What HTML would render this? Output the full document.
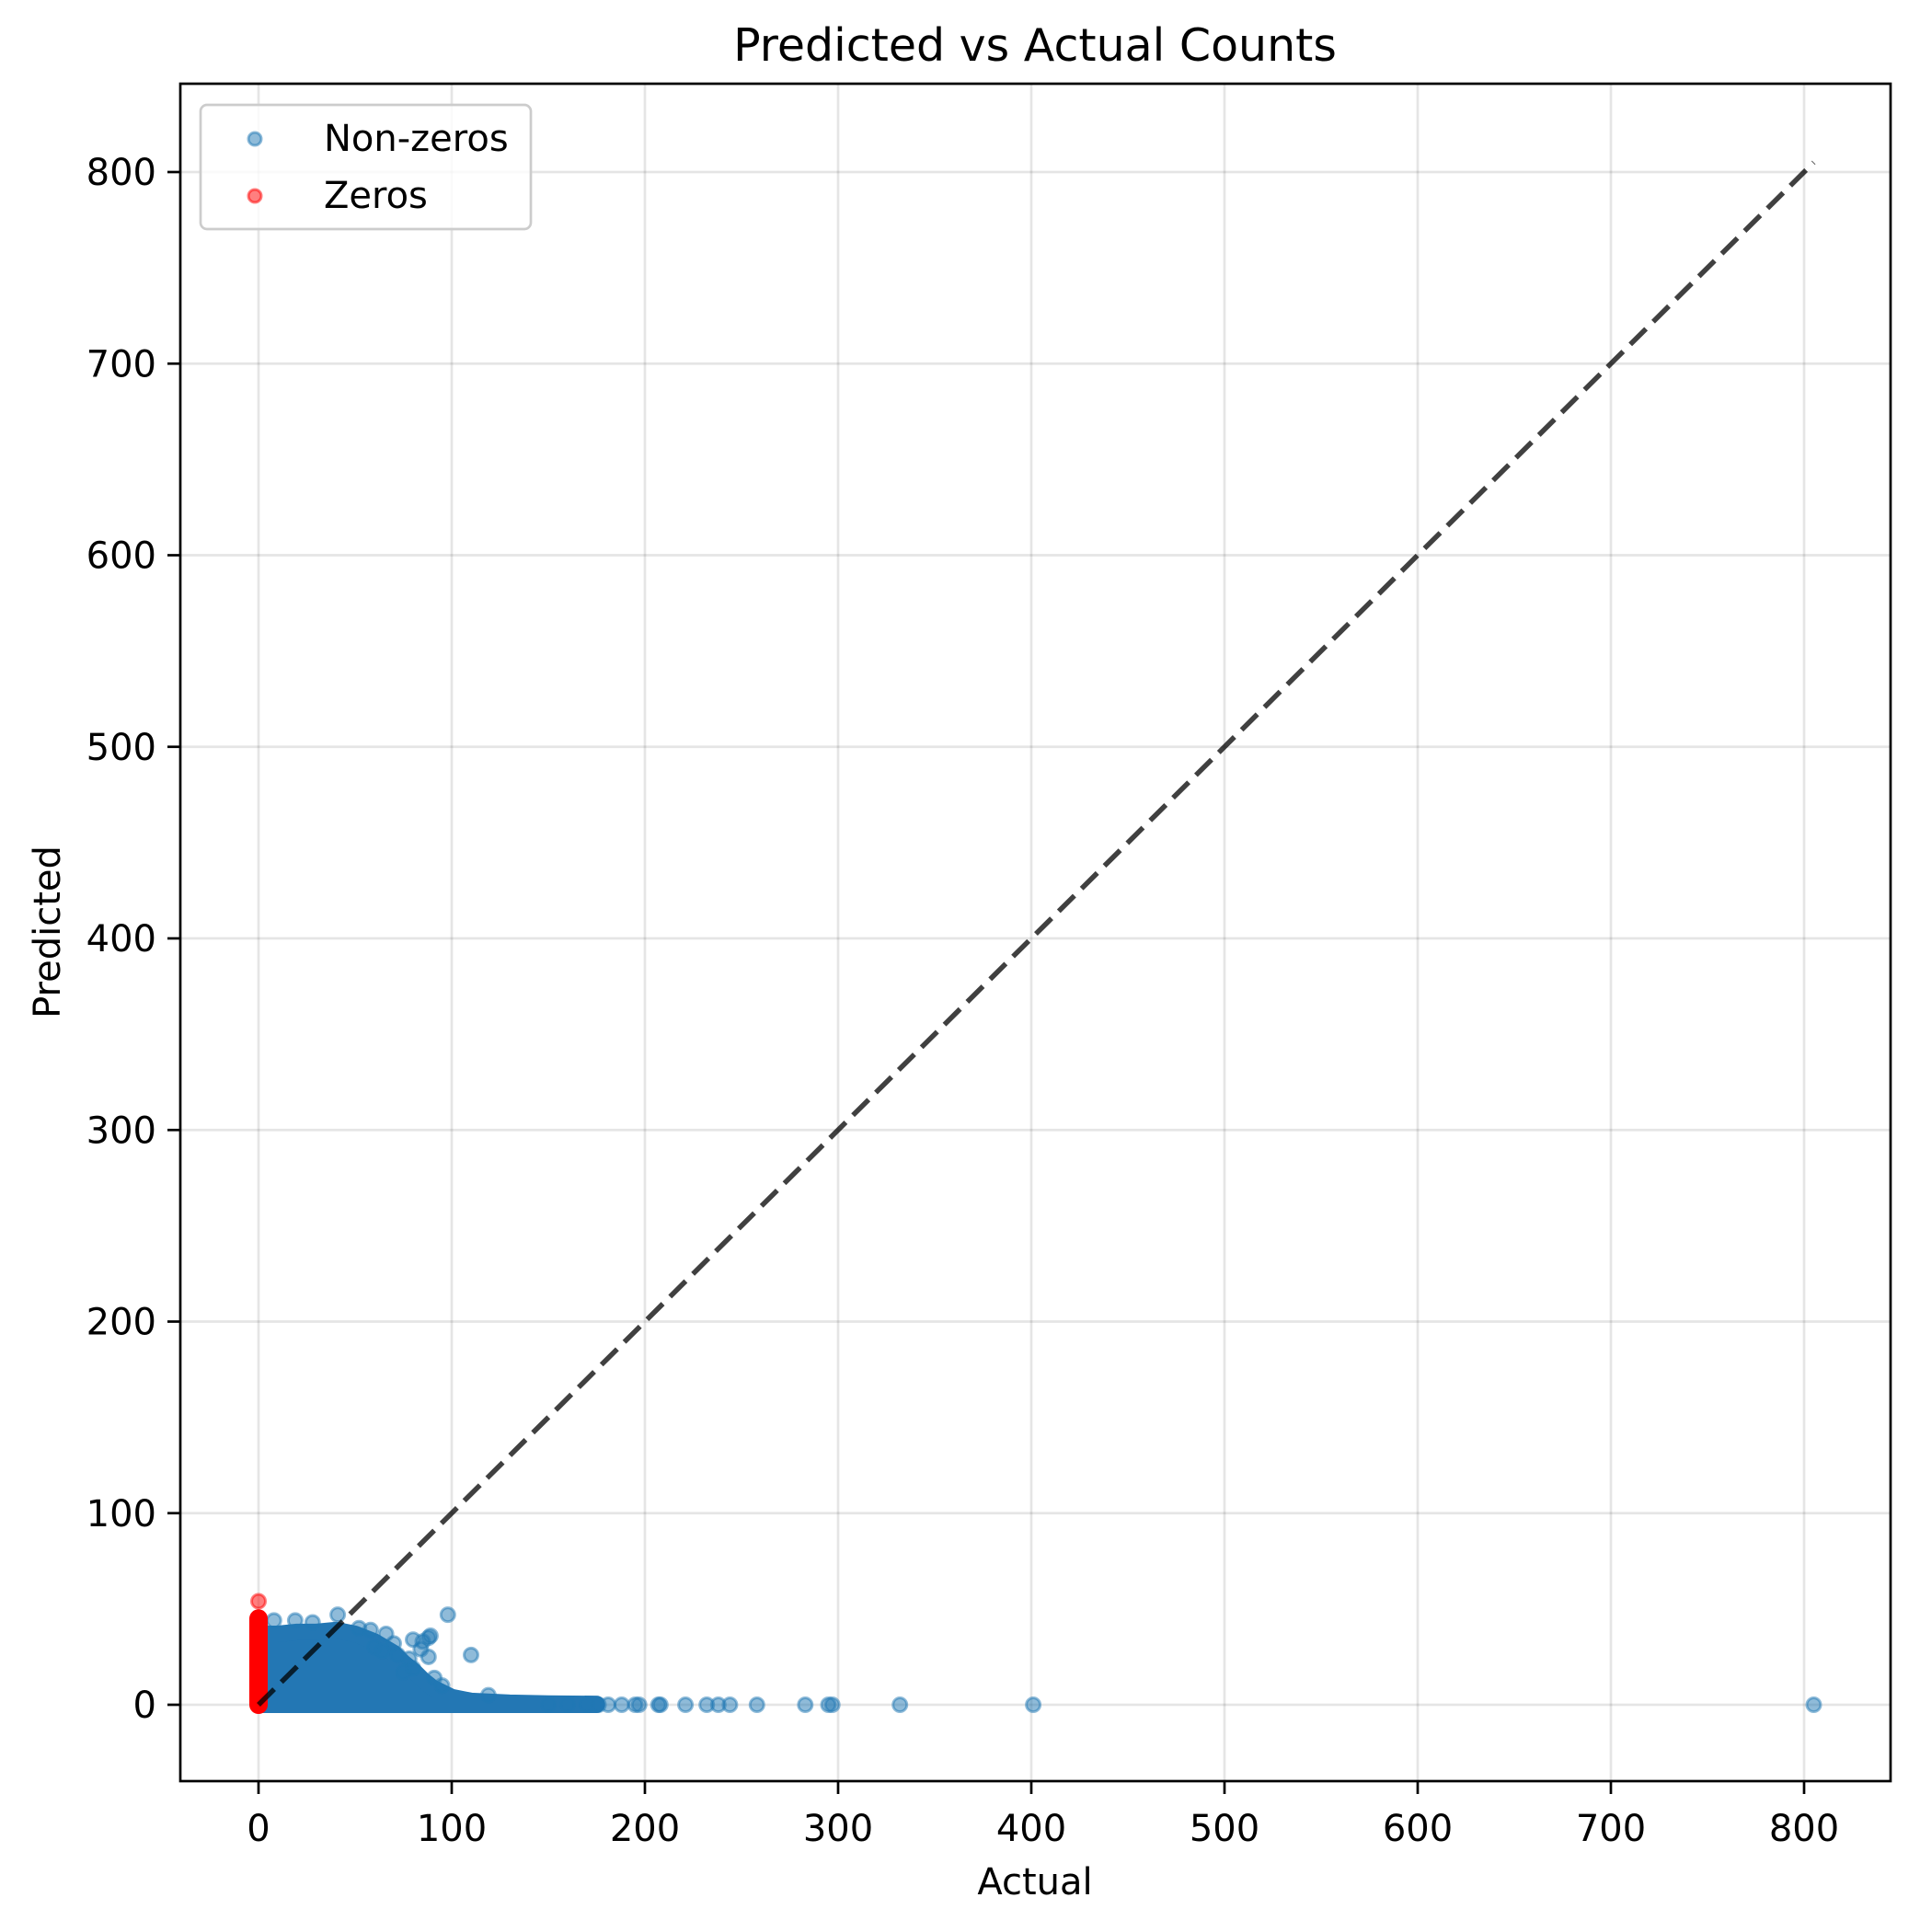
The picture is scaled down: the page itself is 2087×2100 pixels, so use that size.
<!DOCTYPE html>
<html><head><meta charset="utf-8"><style>
html,body{margin:0;padding:0;background:#fff;}
svg{display:block;font-family:"DejaVu Sans","Liberation Sans",sans-serif;}
</style></head><body>
<svg id="chart" width="2087" height="2100" viewBox="0 0 2087 2100" xmlns="http://www.w3.org/2000/svg">
<rect width="2087" height="2100" fill="#fff"/>
<g id="grid"></g>
<g id="cluster"></g>
<g id="pts"></g>
<g id="diag"></g>
<rect x="196" y="91" width="1859" height="1845" fill="none" stroke="#000" stroke-width="2.7"/>
<g id="ticks"></g>
<text x="1125" y="66" font-size="49" text-anchor="middle">Predicted vs Actual Counts</text>
<text x="1125" y="2059" font-size="40" text-anchor="middle">Actual</text>
<text x="0" y="0" font-size="40" text-anchor="middle" transform="translate(65,1013) rotate(-90)">Predicted</text>
<g>
<rect x="218" y="114" width="359" height="135" rx="7" fill="#fff" fill-opacity="0.8" stroke="#ccc" stroke-width="2.7"/>
<circle cx="277" cy="151" r="7" fill="#1f77b4" fill-opacity="0.5" stroke="#1f77b4" stroke-opacity="0.5" stroke-width="3"/>
<text x="352" y="164" font-size="40">Non-zeros</text>
<circle cx="277" cy="213" r="7" fill="#ff0000" fill-opacity="0.5" stroke="#ff0000" stroke-opacity="0.5" stroke-width="3"/>
<text x="352" y="226" font-size="40">Zeros</text>
</g>
</svg>
<script>
const xTicks = [0,100,200,300,400,500,600,700,800];
const yTicks = [0,100,200,300,400,500,600,700,800];
// dense blue cluster envelope (actual, predicted upper edge)
const clusterX = [0,5,10,20,30,40,50,55,60,65,70,75,80,85,90,100,110,120,130,150,175];
const clusterTop = [36,37,37,38,38,39,37,35,33,30,27,22,18,13,9,4,2,1.5,1,0.6,0.4];
// blue outliers above the mass
const outX = [8,19,28,41,52,58,66,70,80,85,89,88,110,98,84,88,91,95,75,80,119,60,64,72,78];
const outY = [44,44,43,47,40,39,37,32,34,33,36,35,26,47,29,25,14,10,17,19,5,30,28,26,24];
// blue points on the zero line
const zeroLineX = [150,160,170,176,181,188,195,197,207,208,221,232,238,244,258,283,295,297,332,401,805];
// red zeros: actual = 0, predicted values
const zerosPred = [0,2,4,6,8,10,12,14,16,18,20,22,24,26,28,30,32,34,36,38,40,42,43,44,45,54];

const X0=281, XS=2.1, Y0=1853, YS=2.0825;
const sx=v=>X0+v*XS, sy=v=>Y0-v*YS;
const NS='http://www.w3.org/2000/svg';
function mk(tag,attrs,parent){const e=document.createElementNS(NS,tag);for(const k in attrs)e.setAttribute(k,attrs[k]);parent.appendChild(e);return e;}
const grid=document.getElementById('grid'), ticks=document.getElementById('ticks');
xTicks.forEach(t=>{
  const g=mk('line',{x1:sx(t),x2:sx(t),y1:91,y2:1936,stroke:'#000','stroke-opacity':0.1,'stroke-width':2.7},grid);
  
  
  const tk=mk('line',{x1:sx(t),x2:sx(t),y1:1936,y2:1950,stroke:'#000','stroke-width':2.7},ticks);
  
  
  const lb=mk('text',{x:sx(t),y:2001,'font-size':40,'text-anchor':'middle'},ticks);
  lb.textContent=t;
  
  
});
yTicks.forEach(t=>{
  const g=mk('line',{x1:196,x2:2055,y1:sy(t),y2:sy(t),stroke:'#000','stroke-opacity':0.1,'stroke-width':2.7},grid);
  
  
  const tk=mk('line',{x1:182,x2:196,y1:sy(t),y2:sy(t),stroke:'#000','stroke-width':2.7},ticks);
  
  
  const lb=mk('text',{x:170,y:sy(t)+14,'font-size':40,'text-anchor':'end'},ticks);
  lb.textContent=t;
  
  
});
// cluster envelope
let d='M'+sx(clusterX[0])+','+sy(0);
clusterX.forEach((x,i)=>{d+=' L'+sx(x)+','+sy(clusterTop[i]);});
d+=' L'+sx(clusterX[clusterX.length-1])+','+sy(0)+' Z';
const cl=mk('path',{d:d,fill:'#2377b4',stroke:'#2377b4','stroke-width':18,'stroke-linejoin':'round'},document.getElementById('cluster'));


const pts=document.getElementById('pts');
function dot(x,y,c,name){
  const e=mk('circle',{cx:sx(x),cy:sy(y),r:7.5,fill:c,'fill-opacity':0.5,stroke:c,'stroke-opacity':0.5,'stroke-width':3},pts);
  
  
}
outX.forEach((x,i)=>dot(x,outY[i],'#1f77b4','nonzero-point'));
zeroLineX.forEach(x=>dot(x,0,'#1f77b4','nonzero-point'));
// red zeros bar
const zmax=Math.max(...zerosPred.filter(v=>v<50));
const zb=mk('line',{x1:sx(0),x2:sx(0),y1:sy(0),y2:sy(zmax),stroke:'#ff0000','stroke-width':20,'stroke-linecap':'round'},pts);


zerosPred.forEach(y=>dot(0,y,'#ff0000','zero-point'));
// diagonal
const dmax=Math.max(...zeroLineX);
const dl=mk('line',{x1:sx(0),y1:sy(0),x2:sx(dmax),y2:sy(dmax),stroke:'#000','stroke-opacity':0.75,'stroke-width':5.5,'stroke-dasharray':'24,11'},document.getElementById('diag'));


</script>
</body></html>
